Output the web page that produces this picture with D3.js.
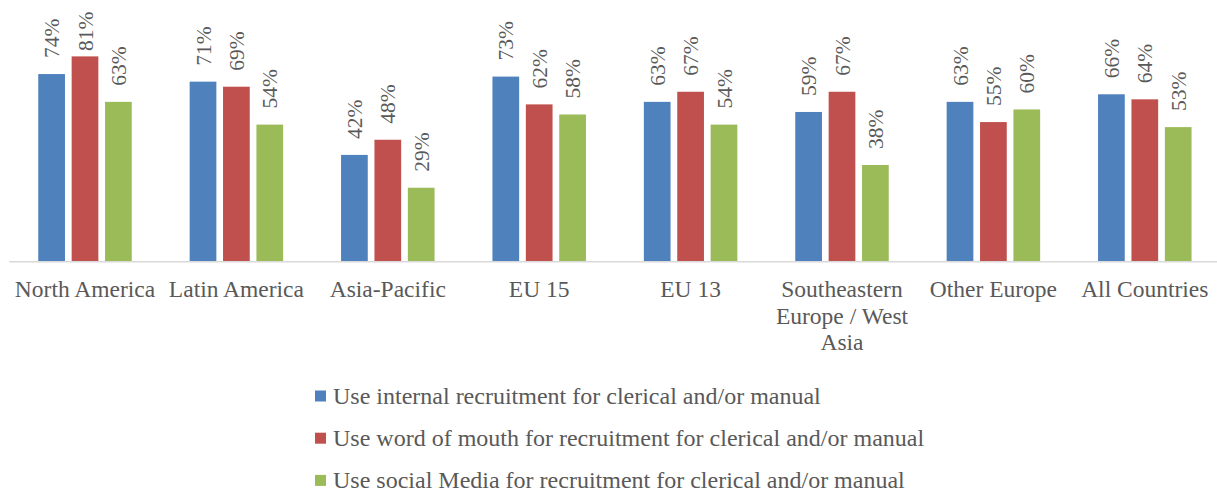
<!DOCTYPE html>
<html>
<head>
<meta charset="utf-8">
<script src="https://cdn.jsdelivr.net/npm/d3@7"></script>
<style>
  body { margin: 0; background: #fff; }
</style>
</head>
<body>
<div id="chart"></div>
<script>
var categories = ["North America", "Latin America", "Asia-Pacific", "EU 15", "EU 13",
  "Southeastern Europe / West Asia", "Other Europe", "All Countries"];
var seriesNames = [
  "Use internal recruitment for clerical and/or manual",
  "Use word of mouth for recruitment for clerical and/or manual",
  "Use social Media for recruitment for clerical and/or manual"
];
var internalRecruitment = [74, 71, 42, 73, 63, 59, 63, 66];
var wordOfMouth = [81, 69, 48, 62, 67, 67, 55, 64];
var socialMedia = [63, 54, 29, 58, 54, 38, 60, 53];
var colors = ["#4F81BD", "#C0504D", "#9BBB59"];

var seriesValues = [internalRecruitment, wordOfMouth, socialMedia];

var width = 1217, height = 492;
var fontFamily = "'Liberation Serif', 'Times New Roman', Times, 'DejaVu Serif'";

var svg = d3.select('#chart').append('svg')
  .attr('width', width)
  .attr('height', height)
  .attr('font-family', fontFamily)
  .style('font-family', fontFamily);

var x0 = d3.scaleBand()
  .domain(categories)
  .range([9.3, 1220.5])
  .padding(0);

var x1 = d3.scaleBand()
  .domain([0, 1, 2])
  .range([0, x0.bandwidth()])
  .paddingInner(0.2)
  .paddingOuter(0.867);

var y = d3.scaleLinear()
  .domain([0, 100])
  .range([261, 8.4]);

// flatten to one record per bar
var bars = [];
categories.forEach(function (c, i) {
  seriesValues.forEach(function (vals, s) {
    bars.push({ cat: c, s: s, v: vals[i] });
  });
});

svg.append('g')
  .selectAll('rect')
  .data(bars)
  .enter().append('rect')
  .attr('x', function (d) { return x0(d.cat) + x1(d.s); })
  .attr('y', function (d) { return y(d.v); })
  .attr('width', x1.bandwidth())
  .attr('height', function (d) { return y(0) - y(d.v); })
  .style('fill', function (d) { return colors[d.s]; });

// category axis line
svg.append('line')
  .attr('x1', 9.3).attr('x2', width)
  .attr('y1', y(0) + 0.8).attr('y2', y(0) + 0.8)
  .style('stroke', '#D9D9D9')
  .style('stroke-width', 1.6);

// data labels, rotated
var labels = svg.append('g')
  .selectAll('text')
  .data(bars)
  .enter().append('text')
  .style('font-size', '21.5px')
  .style('fill', '#595959')
  .attr('dy', '0.35em')
  .text(function (d) { return d.v + '%'; });

labels.each(function (d) {
  var len = this.getComputedTextLength();
  var cx = x0(d.cat) + x1(d.s) + x1.bandwidth() / 2;
  var bottom = Math.max(y(d.v) - 16, 11.5 + len);
  d3.select(this).attr('transform', 'translate(' + cx + ',' + bottom + ') rotate(-90)');
});

// category labels with wrapping
var catLabels = svg.append('g')
  .selectAll('text')
  .data(categories)
  .enter().append('text')
  .attr('x', function (d) { return x0(d) + x0.bandwidth() / 2; })
  .attr('y', 297)
  .style('font-size', '23.5px')
  .style('fill', '#595959')
  .style('text-anchor', 'middle')
  .text(function (d) { return d; })
  .call(wrap, x0.bandwidth() - 1);

function wrap(texts, maxWidth) {
  texts.each(function () {
    var text = d3.select(this);
    var words = text.text().split(/\s+/);
    var xPos = text.attr('x');
    var line = [];
    text.text(null);
    var tspan = text.append('tspan').attr('x', xPos).attr('dy', 0);
    words.forEach(function (w) {
      line.push(w);
      tspan.text(line.join(' '));
      if (tspan.node().getComputedTextLength() > maxWidth && line.length > 1) {
        line.pop();
        tspan.text(line.join(' '));
        line = [w];
        tspan = text.append('tspan').attr('x', xPos).attr('dy', 26.5).text(w);
      }
    });
  });
}

// legend
var legend = svg.append('g')
  .selectAll('g')
  .data(seriesNames)
  .enter().append('g')
  .attr('transform', function (d, i) { return 'translate(315,' + (396 + i * 42.2) + ')'; });

legend.append('rect')
  .attr('x', 0).attr('y', -5.5)
  .attr('width', 11).attr('height', 11)
  .style('fill', function (d, i) { return colors[i]; });

legend.append('text')
  .attr('x', 18)
  .attr('y', 8)
  .style('font-size', '24px')
  .style('fill', '#595959')
  .text(function (d) { return d; });
</script>
</body>
</html>
